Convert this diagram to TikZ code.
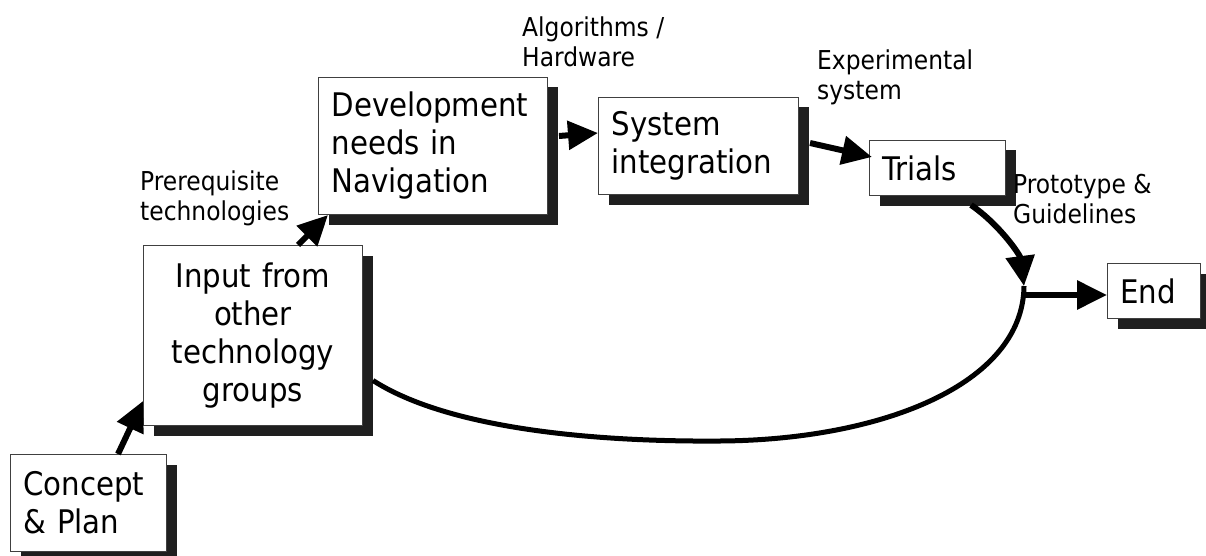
\documentclass[tikz,border=0pt]{standalone}
\usepackage{fontspec}
\setmainfont{DejaVu Sans Condensed}
\usetikzlibrary{arrows.meta,shadows}
\newcommand\bigtext{\fontsize{32.5}{38}\selectfont}
\newcommand\smalltext{\fontsize{26}{30}\selectfont}
\tikzset{
  box/.style={draw=black!75, line width=1pt, fill=white, anchor=north west,
    inner xsep=13pt, inner ysep=0pt, font=\bigtext, align=left,
    drop shadow={shadow xshift=10pt, shadow yshift=-10pt, fill=black!88, opacity=1}},
  lbl/.style={anchor=base west, align=left, inner sep=0pt, font=\smalltext},
  flow/.style={line width=6pt, -{Triangle[length=30pt,width=28pt]}},
  loopline/.style={line width=5pt},
}
\begin{document}
\begin{tikzpicture}[x=1pt,y=-1pt]
  \useasboundingbox (0,0) rectangle (1206,556);

  % process boxes
  \node[box, text width=130pt, minimum height=97pt] (concept) at (10,454) {Concept\\\& Plan};
  \node[box, text width=193pt, minimum height=180pt, align=center] (input) at (143,245)
    {Input from\\other\\technology\\groups};
  \node[box, text width=203pt, minimum height=137pt] (dev) at (318,77)
    {Development\\needs in\\Navigation};
  \node[box, text width=174pt, minimum height=97pt] (sys) at (598,97) {System\\integration};
  \node[box, text width=110pt, minimum height=55pt] (trials) at (869,140) {Trials};
  \node[box, text width=67pt, minimum height=55pt] (endbox) at (1107,263) {End};

  % labels on the flow (anchored at the baseline of their last line)
  \node[lbl] (pre) at (140,220) {Prerequisite\\technologies};
  \node[lbl] (alg) at (522,67) {Algorithms /\\Hardware};
  \node[lbl] (exp) at (817,100) {Experimental\\system};
  \node[lbl] (proto) at (1013,223) {Prototype \&\\Guidelines};

  % junction where the feedback loop meets the exit
  \coordinate (merge) at (1022,295);
  \coordinate (mergetop) at (1024,286);

  % connectors
  \draw[flow] ([xshift=-49pt]concept.north east) -- ([yshift=25pt]input.south west);
  \draw[flow] ([xshift=-65pt]input.north east) -- ([xshift=10pt]dev.south west);
  \draw[flow] ([xshift=11pt,yshift=10pt]dev.east) -- ([yshift=13pt]sys.west);
  \draw[flow] ([xshift=11pt,yshift=3pt]sys.east) -- ([xshift=3pt,yshift=11pt]trials.west);
  \draw[loopline] ([xshift=10pt,yshift=-45pt]input.east)
    .. controls (450,430) and (600,442) .. (720,441)
    .. controls (880,440) and (1023,385) .. (mergetop);
  \draw[flow] ([xshift=-35pt,yshift=-9pt]trials.south east)
    .. controls (1000,225) and (1020,255) .. (mergetop);
  \draw[flow] (merge) -- ([yshift=-4pt]endbox.west);
\end{tikzpicture}
\end{document}
